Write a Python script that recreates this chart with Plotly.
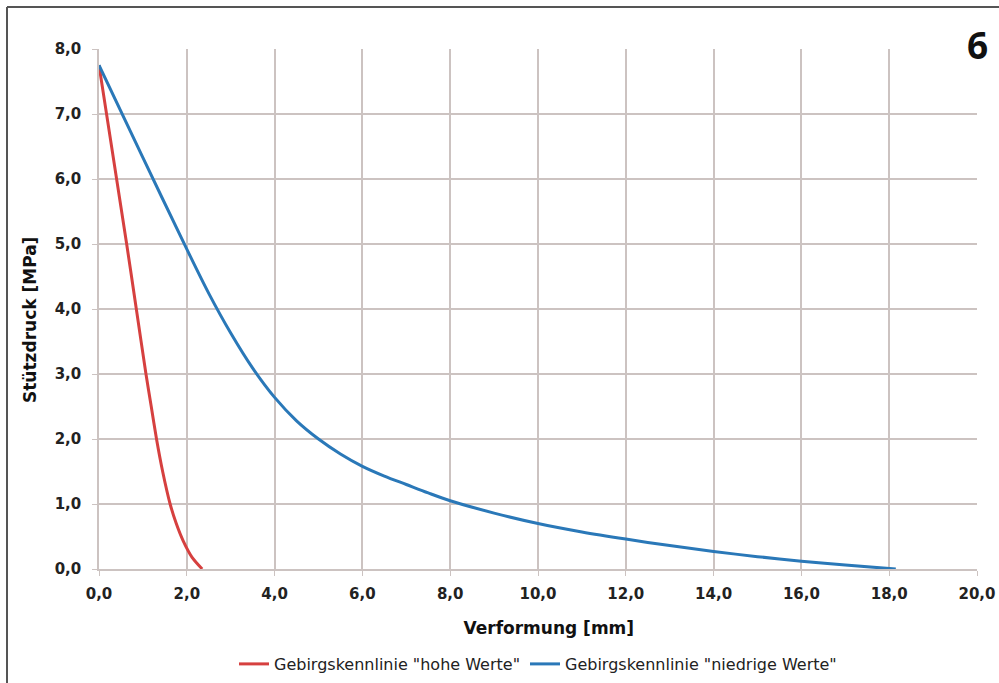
import plotly.graph_objects as go

# Gebirgskennlinie "hohe Werte" (red)
hohe_x = [0.0, 0.63, 0.85, 1.07, 1.19, 1.31, 1.45, 1.62, 1.76, 1.92, 2.12, 2.35]
hohe_y = [7.75, 5.00, 4.00, 3.00, 2.50, 2.00, 1.50, 1.00, 0.70, 0.43, 0.18, 0.00]

# Gebirgskennlinie "niedrige Werte" (blue)
niedrig_x = [0.0, 1.0, 2.0, 2.5, 3.0, 3.5, 4.0, 4.5, 5.0, 5.5, 6.0, 6.5, 7.0, 7.5,
             8.0, 9.0, 10.0, 11.0, 12.0, 13.0, 14.0, 15.0, 16.0, 17.0, 18.15]
niedrig_y = [7.75, 6.33, 4.92, 4.24, 3.63, 3.09, 2.64, 2.28, 2.00, 1.77, 1.58, 1.43, 1.30, 1.17,
             1.05, 0.86, 0.70, 0.57, 0.46, 0.36, 0.27, 0.19, 0.12, 0.06, 0.00]

x_ticks = [0, 2, 4, 6, 8, 10, 12, 14, 16, 18, 20]
y_ticks = [0, 1, 2, 3, 4, 5, 6, 7, 8]

series_names = ['Gebirgskennlinie "hohe Werte"', 'Gebirgskennlinie "niedrige Werte"']

fig = go.Figure()
fig.add_trace(go.Scatter(x=hohe_x, y=hohe_y, mode="lines", name=series_names[0],
                         line=dict(color="#d6403f", width=3, shape="spline", smoothing=0.7)))
fig.add_trace(go.Scatter(x=niedrig_x, y=niedrig_y, mode="lines", name=series_names[1],
                         line=dict(color="#2a78b8", width=3, shape="spline", smoothing=0.9)))

grid = "#ccc3c1"
tickfont = dict(family="DejaVu Sans", size=15, color="#222222", weight="bold")
fig.update_layout(
    width=999, height=683,
    margin=dict(l=99, r=22, t=49, b=114, autoexpand=False),
    paper_bgcolor="white", plot_bgcolor="white",
    separators=",.",
    font=dict(family="DejaVu Sans", color="#222222", size=14),
    xaxis=dict(range=[0, 20], tickvals=x_ticks, tickformat=".1f",
               showgrid=True, gridcolor=grid, gridwidth=1.5,
               showline=True, linecolor=grid, linewidth=1.5,
               ticks="outside", ticklen=5, tickcolor=grid, ticklabelstandoff=5,
               tickfont=tickfont, automargin=False,
               title=dict(text="&nbsp;&nbsp;&nbsp;&nbsp;<b>Verformung [mm]</b>",
                          font=dict(size=17, color="#111111"), standoff=20),
               zeroline=False),
    yaxis=dict(range=[0, 8], tickvals=y_ticks, tickformat=".1f",
               showgrid=True, gridcolor=grid, gridwidth=1.5,
               showline=True, linecolor=grid, linewidth=1.5,
               ticks="outside", ticklen=5, tickcolor=grid, ticklabelstandoff=8,
               tickfont=tickfont, automargin=False,
               title=dict(text="<b>Stützdruck [MPa]</b>&nbsp;&nbsp;&nbsp;&nbsp;",
                          font=dict(size=17, color="#111111"), standoff=14),
               zeroline=False),
    legend=dict(orientation="h", x=0.5, xanchor="center", y=-0.15, yanchor="top",
                font=dict(size=16, color="#222222"), bgcolor="rgba(0,0,0,0)",
                itemwidth=30),
    showlegend=True,
)

# "6" label at top right
fig.add_annotation(text="<b>6</b>", xref="paper", yref="paper",
                   x=(977 - 99) / 878, y=(569 - 44) / 520, xanchor="center", yanchor="middle",
                   showarrow=False, font=dict(family="Open Sans", size=37, color="#111111"))

# outer frame (top and left edges)
fig.add_shape(type="line", xref="paper", yref="paper",
              x0=(7 - 99) / 878, x1=(1005 - 99) / 878, y0=(569 - 7) / 520, y1=(569 - 7) / 520,
              line=dict(color="#555555", width=2))
fig.add_shape(type="line", xref="paper", yref="paper",
              x0=(7 - 99) / 878, x1=(7 - 99) / 878, y0=(569 - 7) / 520, y1=(569 - 690) / 520,
              line=dict(color="#555555", width=2))

fig.write_html("out.html", config={"displayModeBar": False},
               post_script="document.body.style.margin='0px';document.body.style.overflow='hidden';")
